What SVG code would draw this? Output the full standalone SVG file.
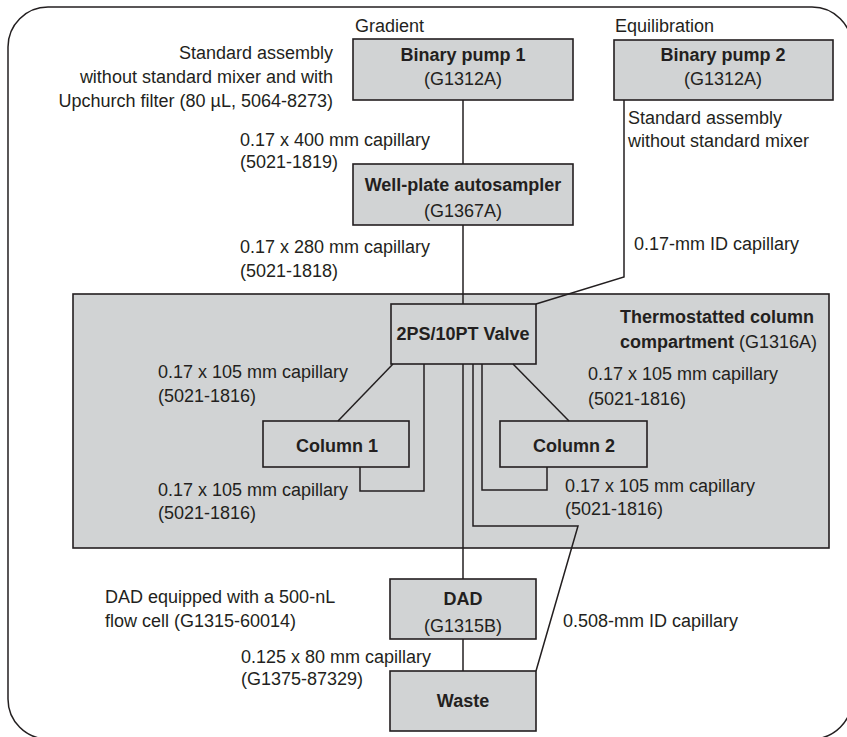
<svg xmlns="http://www.w3.org/2000/svg" width="847" height="737" viewBox="0 0 847 737">
<style>
.frame{fill:none;stroke:#231f20;stroke-width:1.5}
.box{fill:#d1d3d4;stroke:#231f20;stroke-width:1.6}
.obox{fill:none;stroke:#231f20;stroke-width:1.6}
.wire{fill:none;stroke:#231f20;stroke-width:1.5}
text{font-family:"Liberation Sans",Arial,sans-serif;font-size:18px;fill:#231f20}
.b{font-weight:bold}
.m{text-anchor:middle}
.e{text-anchor:end}
</style>
<rect class="frame" x="8" y="7" width="844" height="732" rx="40"/>
<g id="tcc">
<rect class="box" x="73" y="294" width="756" height="254"/>
<text x="620" y="323" class="b">Thermostatted column</text>
<text x="620" y="348"><tspan class="b">compartment</tspan> (G1316A)</text>
</g>
<g id="connectors">
<path class="wire" d="M463 100V164"/>
<path class="wire" d="M463 225V304"/>
<path class="wire" d="M624 100V277L536 304"/>
<path class="wire" d="M393 364L338 421"/>
<path class="wire" d="M513 364L569 421"/>
<path class="wire" d="M360 467V491H424V364"/>
<path class="wire" d="M547 467V490H482V364"/>
<path class="wire" d="M463 364V579"/>
<path class="wire" d="M473 364V526H578L536 671"/>
<path class="wire" d="M463 639V671"/>
</g>
<g id="pump1">
<text x="355" y="32">Gradient</text>
<rect class="box" x="353" y="39" width="220" height="61"/>
<text x="463" y="61" class="b m">Binary pump 1</text>
<text x="463" y="85" class="m">(G1312A)</text>
</g>
<g id="pump2">
<text x="615" y="32">Equilibration</text>
<rect class="box" x="614" y="40" width="219" height="60"/>
<text x="723" y="61" class="b m">Binary pump 2</text>
<text x="723" y="85" class="m">(G1312A)</text>
</g>
<g id="autosampler">
<rect class="box" x="353" y="164" width="220" height="61"/>
<text x="463" y="191" class="b m">Well-plate autosampler</text>
<text x="463" y="217" class="m">(G1367A)</text>
</g>
<g id="valve">
<rect class="obox" x="391" y="304" width="145" height="60"/>
<text x="463" y="340" class="b m">2PS/10PT Valve</text>
</g>
<g id="column1">
<rect class="obox" x="263" y="421" width="146" height="46"/>
<text x="337" y="452" class="b m">Column 1</text>
</g>
<g id="column2">
<rect class="obox" x="500" y="421" width="147" height="46"/>
<text x="574" y="452" class="b m">Column 2</text>
</g>
<g id="dad">
<rect class="box" x="390" y="579" width="146" height="60"/>
<text x="463" y="605" class="b m">DAD</text>
<text x="463" y="632" class="m">(G1315B)</text>
</g>
<g id="waste">
<rect class="box" x="390" y="671" width="146" height="60"/>
<text x="463" y="707" class="b m">Waste</text>
</g>
<g id="labels">
<text x="333" y="59" class="e">Standard assembly</text>
<text x="333" y="83" class="e">without standard mixer and with</text>
<text x="333" y="107" class="e">Upchurch filter (80 µL, 5064-8273)</text>
<text x="628" y="124">Standard assembly</text>
<text x="628" y="147">without standard mixer</text>
<text x="240" y="146">0.17 x 400 mm capillary</text>
<text x="240" y="168">(5021-1819)</text>
<text x="240" y="253">0.17 x 280 mm capillary</text>
<text x="240" y="277">(5021-1818)</text>
<text x="634" y="250">0.17-mm ID capillary</text>
<text x="158" y="378">0.17 x 105 mm capillary</text>
<text x="158" y="402">(5021-1816)</text>
<text x="588" y="380">0.17 x 105 mm capillary</text>
<text x="588" y="405">(5021-1816)</text>
<text x="158" y="496">0.17 x 105 mm capillary</text>
<text x="158" y="519">(5021-1816)</text>
<text x="565" y="492">0.17 x 105 mm capillary</text>
<text x="565" y="515">(5021-1816)</text>
<text x="105" y="603">DAD equipped with a 500-nL</text>
<text x="105" y="627">flow cell (G1315-60014)</text>
<text x="563" y="627">0.508-mm ID capillary</text>
<text x="241" y="663">0.125 x 80 mm capillary</text>
<text x="241" y="685">(G1375-87329)</text>
</g>
</svg>
